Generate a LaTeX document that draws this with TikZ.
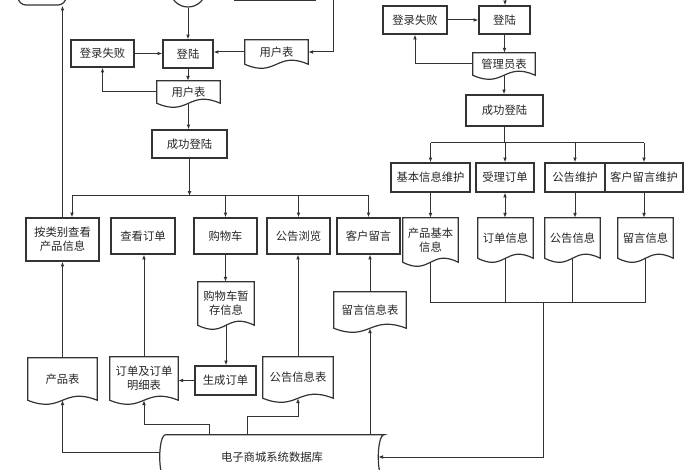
\documentclass[tikz,border=0pt]{standalone}
\usepackage{fontspec}
\newfontfamily\cjkfont{Noto Sans CJK SC}
\usetikzlibrary{arrows.meta,calc}

\tikzset{
  every node/.style={font=\cjkfont\fontsize{8.5}{10.5}\selectfont, text=black!85},
  box/.style={draw=black!80, line width=0.9pt, inner sep=0pt, align=center},
  doc/.style={inner sep=0pt, align=center},
  docline/.style={draw=black!80, line width=0.9pt},
  sz/.style 2 args={minimum width=#1*0.75pt, minimum height=#2*0.75pt},
  link/.style={draw=black!80, line width=0.75pt},
  arr/.style={link, -{Latex[length=3.6pt,width=2.8pt]}},
  darr/.style={link, {Latex[length=3.6pt,width=2.8pt]}-{Latex[length=3.6pt,width=2.8pt]}},
}

\begin{document}
\begin{tikzpicture}[x=0.75pt, y=-0.75pt]

      % Definitions
      \def\dwave{14}   % Pull of the wavy bottom of a document
      \def\dside{6}    % Depth of the curved sides of the database

      \clip (0,0) rectangle (700,470);

      % Cut off by the top of the frame
      \node[box, sz={48}{30}, rounded corners=6pt] (start1) at (42,-10) {};
      \node[box, circle, minimum size=27pt] (start2) at (188,-11) {};
      \node[box, sz={80}{30}] (topbox) at (275,-15) {};
      \coordinate (in1) at (333,-5);
      \coordinate (in2) at (505,-5);

      % User side
      \node[box, sz={63}{27}] (fail1) at (102.5,53.5) {登录失败};
      \node[box, sz={50}{28}] (login1) at (188,54) {登陆};
      \node[doc, sz={63}{24}] (utab1) at (276.5,52) {用户表};
      \node[doc, sz={63}{22}] (utab2) at (188.5,92) {用户表};
      \node[box, sz={75}{28}] (ok1) at (189.5,144) {成功登陆};

      \node[box, sz={73}{43}] (browse) at (62.5,239.5) {按类别查看\\产品信息};
      \node[box, sz={64}{36}] (vorder) at (143,236) {查看订单};
      \node[box, sz={63}{36}] (cart) at (225.5,236) {购物车};
      \node[box, sz={63}{36}] (notice) at (298.5,236) {公告浏览};
      \node[box, sz={63}{36}] (msg) at (368.5,236) {客户留言};

      \node[doc, sz={56}{43}] (carttmp) at (226,303.5) {购物车暂\\存信息};
      \node[box, sz={61}{29}] (genorder) at (225.5,380.5) {生成订单};
      \node[doc, sz={68}{43}] (ordtab) at (144,378.5) {订单及订单\\明细表};
      \node[doc, sz={69}{42}] (prodtab) at (62.5,379) {产品表};
      \node[doc, sz={70}{41}] (nottab) at (298,377.5) {公告信息表};
      \node[doc, sz={72}{36}] (msgtab) at (370,310) {留言信息表};

      % Admin side
      \node[box, sz={64}{28}] (fail2) at (415,20) {登录失败};
      \node[box, sz={51}{28}] (login2) at (504.5,20) {登陆};
      \node[doc, sz={62}{22}] (atab) at (504,64) {管理员表};
      \node[box, sz={77}{31}] (ok2) at (504.5,110.5) {成功登陆};

      \node[box, sz={79}{29}] (baseinfo) at (430.5,177.5) {基本信息维护};
      \node[box, sz={58}{29}] (accept) at (505,177.5) {受理订单};
      \node[box, sz={60}{29}] (notmaint) at (575,177.5) {公告维护};
      \node[box, sz={78}{29}] (msgmaint) at (644,177.5) {客户留言维护};

      \node[doc, sz={55}{44}] (prodinfo) at (430.5,240) {产品基本\\信息};
      \node[doc, sz={55}{40}] (orderinfo) at (505.5,238) {订单信息};
      \node[doc, sz={55}{40}] (notinfo) at (572.5,238) {公告信息};
      \node[doc, sz={55}{40}] (msginfo) at (645.5,238) {留言信息};

      % Database
      \node[sz={224}{44}] (db) at (272,457) {电子商城系统数据库};
      \draw[docline] ($(db.north west)+(\dside,0)$) -- (db.north east)
            .. controls ($(db.north east)+(-1.33*\dside,0)$) and ($(db.south east)+(-1.33*\dside,0)$) .. (db.south east)
            -- ($(db.south west)+(\dside,0)$)
            .. controls ($(db.south west)+(-0.33*\dside,0)$) and ($(db.north west)+(-0.33*\dside,0)$) .. cycle;
      \coordinate (dbR) at ($(db.east)+(-\dside,0)$);

      % Document outlines
      \foreach \n in {utab1,utab2,atab,carttmp,ordtab,prodtab,nottab,msgtab,prodinfo,orderinfo,notinfo,msginfo}
         \draw[docline] (\n.north west) -- (\n.north east) -- (\n.south east)
            .. controls ($(\n.south)+(0,-\dwave)$) and ($(\n.south)+(0,\dwave)$) .. (\n.south west) -- cycle;

      % Links, user side
      \draw[arr] (start2) -- (login1);
      \draw[arr] (in1) |- (utab1.east);
      \draw[arr] (utab1.west) -- (utab1.west -| login1.east);
      \draw[arr] (fail1.east) -- (fail1.east -| login1.west);
      \draw[arr] (login1.south) -- (login1.south |- utab2.north);
      \draw[arr] (utab2.west) -| (fail1.south);
      \draw[arr] (utab2.south) -- (utab2.south |- ok1.north);

      \coordinate (busL) at (72,196);
      \draw[arr] (ok1.south) -- (ok1.south |- busL);
      \draw[link] (busL) -- (msg.north |- busL);
      \draw[arr] (busL) -- (busL |- browse.north);
      \foreach \n in {cart,notice,msg}
         \draw[arr] (\n.north |- busL) -- (\n.north);
      \draw[arr] (browse.north) -- (browse.north |- start1.south);

      \draw[arr] (cart.south) -- (cart.south |- carttmp.north);
      \draw[arr] (carttmp.south) -- (carttmp.south |- genorder.north);
      \draw[arr] (genorder.west) -- (genorder.west -| ordtab.east);
      \draw[arr] (ordtab.north) -- (ordtab.north |- vorder.south);
      \draw[arr] (prodtab.north) -- (browse.south);
      \draw[arr] (nottab.north) -- (nottab.north |- notice.south);
      \draw[arr] (msgtab.north) -- (msgtab.north |- msg.south);

      % Links out of the database
      \draw[arr] ([yshift=3.75pt]db.west) -| (prodtab.south);
      \draw[arr] ($(db.north west)+(50,0)$) -- ++(0,-10) -| (ordtab.south);
      \draw[arr] ($(db.north west)+(88,0)$) -- ++(0,-18) -| (nottab.south);
      \draw[arr] (msgtab.south |- db.north) -- (msgtab.south);

      % Links, admin side
      \draw[arr] (in2) -- (in2 |- login2.north);
      \draw[arr] (fail2.east) -- (fail2.east -| login2.west);
      \draw[arr] (login2.south) -- (login2.south |- atab.north);
      \draw[arr] (atab.west) -| (fail2.south);
      \draw[arr] (atab.south) -- (atab.south |- ok2.north);

      \coordinate (busB) at (505,143);
      \draw[link] (ok2.south) -- (ok2.south |- busB);
      \draw[link] (baseinfo.north |- busB) -- (msgmaint.north |- busB);
      \foreach \n in {baseinfo,accept,notmaint,msgmaint}
         \draw[arr] (\n.north |- busB) -- (\n.north);

      \draw[arr] (baseinfo.south) -- (baseinfo.south |- prodinfo.north);
      \draw[darr] (accept.south) -- (accept.south |- orderinfo.north);
      \draw[arr] (notmaint.south) -- (notmaint.south |- notinfo.north);
      \draw[arr] (msgmaint.south) -- (msgmaint.south |- msginfo.north);

      \coordinate (busC) at (543,303);
      \draw[link] (prodinfo.south) |- (msginfo.south |- busC) -- (msginfo.south);
      \foreach \n in {orderinfo,notinfo}
         \draw[link] (\n.south) -- (\n.south |- busC);
      \draw[arr] (busC) |- (dbR);

\end{tikzpicture}
\end{document}
